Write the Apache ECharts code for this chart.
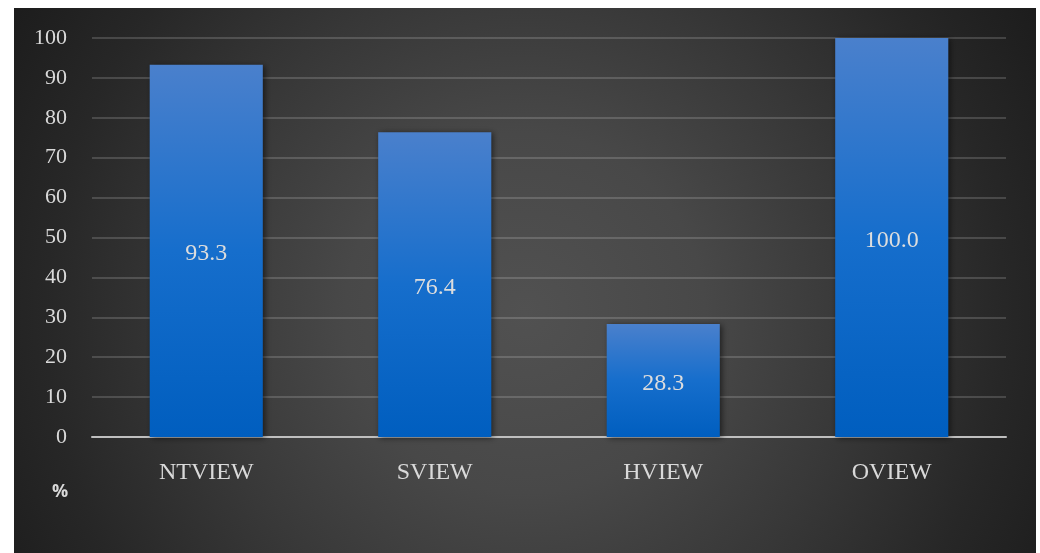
<!DOCTYPE html>
<html>
<head>
<meta charset="utf-8">
<script src="https://cdn.jsdelivr.net/npm/echarts@6/dist/echarts.min.js"></script>
<style>
html,body{margin:0;padding:0;background:#fff;}
#chart{width:1040px;height:553px;}
</style>
</head>
<body>
<div id="chart"></div>
<script>
const categories = ['NTVIEW', 'SVIEW', 'HVIEW', 'OVIEW'];
const values = [93.3, 76.4, 28.3, 100.0];
const yTicks = [0, 10, 20, 30, 40, 50, 60, 70, 80, 90, 100];
const unitLabel = '%';

const chart = echarts.init(document.getElementById('chart'));
const serif = '"Liberation Serif", "DejaVu Serif", serif';
chart.setOption({
  backgroundColor: '#ffffff',
  animation: false,
  graphic: [
    {
      type: 'rect', z: -10, silent: true,
      shape: { x: 14, y: 8, width: 1022, height: 545 },
      style: {
        fill: {
          type: 'radial', x: 0.5, y: 0.56, r: 1.1,
          colorStops: [
            { offset: 0, color: '#515151' },
            { offset: 0.3, color: '#484848' },
            { offset: 0.55, color: '#383838' },
            { offset: 0.8, color: '#272727' },
            { offset: 1, color: '#1c1c1c' }
          ]
        }
      }
    },
    {
      type: 'text', left: 52, top: 483,
      style: { text: unitLabel, fill: '#d9d9d9', font: 'bold 18px "Open Sans", sans-serif' }
    }
  ],
  grid: { left: 92, right: 34, top: 38, bottom: 116, containLabel: false },
  xAxis: {
    type: 'category',
    data: categories,
    axisTick: { show: false },
    axisLine: { lineStyle: { color: '#bfbfbf', width: 2 } },
    axisLabel: { color: '#d9d9d9', fontFamily: serif, fontSize: 24, margin: 24 }
  },
  yAxis: {
    type: 'value',
    min: yTicks[0], max: yTicks[yTicks.length - 1], interval: 10,
    axisLine: { show: false },
    axisTick: { show: false },
    axisLabel: { color: '#d9d9d9', fontFamily: serif, fontSize: 22, margin: 25 },
    splitLine: { lineStyle: { color: 'rgba(255,255,255,0.16)', width: 2 } }
  },
  series: [{
    type: 'bar',
    data: values,
    barWidth: '49.5%',
    itemStyle: {
      color: {
        type: 'linear', x: 0, y: 0, x2: 0, y2: 1,
        colorStops: [
          { offset: 0, color: '#4a80cc' },
          { offset: 0.5, color: '#166ecc' },
          { offset: 1, color: '#005ebf' }
        ]
      },
      shadowColor: 'rgba(0,0,0,0.55)', shadowBlur: 6, shadowOffsetX: 2, shadowOffsetY: 1
    },
    label: {
      show: true, position: 'inside', color: '#dddddd',
      fontFamily: serif, fontSize: 24, offset: [0, 3],
      formatter: p => p.value.toFixed(1)
    }
  }]
});
</script>
</body>
</html>
